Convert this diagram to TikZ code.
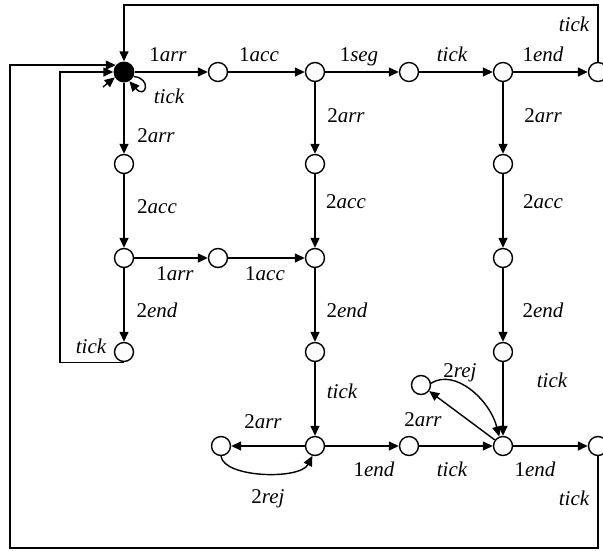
\documentclass[tikz,border=0pt]{standalone}
\usepackage{fontspec}
\setmainfont{Liberation Serif}
\usetikzlibrary{arrows.meta}
\begin{document}
\begin{tikzpicture}[x=1pt,y=-1pt,
  st/.style={circle,draw,line width=1.4pt,minimum size=19pt,inner sep=0pt,fill=white},
  ini/.style={circle,fill=black,minimum size=21pt,inner sep=0pt},
  arr/.style={line width=1.4pt,-{Triangle[length=10pt,width=9pt]}},
  lbl/.style={anchor=base,inner sep=0pt,font=\fontsize{21}{24}\selectfont\itshape}]
\useasboundingbox (0,0) rectangle (603,550);
% states
\node[ini] (s0) at (124,72) {};
\node[st] (a1) at (218,72) {};
\node[st] (a2) at (315,72) {};
\node[st] (a3) at (409,72) {};
\node[st] (a4) at (503,72) {};
\node[st] (a5) at (598,72) {};
\node[st] (b1) at (124,164) {};
\node[st] (b2) at (124,258) {};
\node[st] (b3) at (124,352) {};
\node[st] (b4) at (218,258) {};
\node[st] (m1) at (315,164) {};
\node[st] (m2) at (315,258) {};
\node[st] (m3) at (315,352) {};
\node[st] (m4) at (315,446) {};
\node[st] (r1) at (503,164) {};
\node[st] (r2) at (503,258) {};
\node[st] (r3) at (503,352) {};
\node[st] (r4) at (503,446) {};
\node[st] (d1) at (221,446) {};
\node[st] (d2) at (409,446) {};
\node[st] (d3) at (598,446) {};
\node[st] (e1) at (421,385) {};
% corner coordinates
\coordinate (init) at (103,87);
\coordinate (tcr) at (598,5);
\coordinate (tcl) at (124,5);
\coordinate (itl) at (60,72);
\coordinate (obr) at (598,548);
\coordinate (obl) at (10,548);
% top row
\draw[arr] (s0) -- (a1);
\draw[arr] (a1) -- (a2);
\draw[arr] (a2) -- (a3);
\draw[arr] (a3) -- (a4);
\draw[arr] (a4) -- (a5);
\draw[arr] (a5.north) -- (tcr) -- (tcl) -- (s0.north);
% initial and self loop
\draw[arr] (init) -- (s0.210);
\draw[arr] (s0.-25) .. controls (152,78) and (146,100) .. (s0.-60);
% left column
\draw[arr] (s0) -- (b1);
\draw[arr] (b1) -- (b2);
\draw[arr] (b2) -- (b4);
\draw[arr] (b4) -- (m2);
\draw[arr] (b2) -- (b3);
\draw[arr] (b3.south) -| (itl) -- (s0.west);
% middle column
\draw[arr] (a2) -- (m1);
\draw[arr] (m1) -- (m2);
\draw[arr] (m2) -- (m3);
\draw[arr] (m3) -- (m4);
\draw[arr] (m4) -- (d1);
\draw[arr] (d1.south) .. controls (224,478) and (300,480) .. (m4.255);
% bottom row
\draw[arr] (m4) -- (d2);
\draw[arr] (d2) -- (r4);
\draw[arr] (r4) -- (d3);
\draw[arr] (d3.south) -- (obr) -- (obl) |- (s0.140);
% right column
\draw[arr] (a4) -- (r1);
\draw[arr] (r1) -- (r2);
\draw[arr] (r2) -- (r3);
\draw[arr] (r3) -- (r4);
\draw[arr] (r4) -- (e1);
\draw[arr] (e1.10) .. controls (455,368) and (490,400) .. (r4.112);
% labels
\node[lbl] (L1) at (168,61) {{\upshape1}arr};
\node[lbl] (L2) at (259,61) {{\upshape1}acc};
\node[lbl] (L3) at (359,61) {{\upshape1}seg};
\node[lbl] (L4) at (452,61) {tick};
\node[lbl] (L5) at (543,61) {{\upshape1}end};
\node[lbl] (L6) at (574,31) {tick};
\node[lbl] (L7) at (169,103) {tick};
\node[lbl] (L8) at (156,142) {{\upshape2}arr};
\node[lbl] (L9) at (157,213) {{\upshape2}acc};
\node[lbl] (L10) at (157,317) {{\upshape2}end};
\node[lbl] (L11) at (91,353) {tick};
\node[lbl] (L12) at (175,280) {{\upshape1}arr};
\node[lbl] (L13) at (265,280) {{\upshape1}acc};
\node[lbl] (L14) at (346,122) {{\upshape2}arr};
\node[lbl] (L15) at (346,208) {{\upshape2}acc};
\node[lbl] (L16) at (347,317) {{\upshape2}end};
\node[lbl] (L17) at (342,398) {tick};
\node[lbl] (L18) at (543,122) {{\upshape2}arr};
\node[lbl] (L19) at (543,208) {{\upshape2}acc};
\node[lbl] (L20) at (543,317) {{\upshape2}end};
\node[lbl] (L21) at (552,387) {tick};
\node[lbl] (L22) at (460,377) {{\upshape2}rej};
\node[lbl] (L23) at (423,426) {{\upshape2}arr};
\node[lbl] (L24) at (374,476) {{\upshape1}end};
\node[lbl] (L25) at (452,476) {tick};
\node[lbl] (L26) at (535,476) {{\upshape1}end};
\node[lbl] (L27) at (574,505) {tick};
\node[lbl] (L28) at (263,428) {{\upshape2}arr};
\node[lbl] (L29) at (268,503) {{\upshape2}rej};
\end{tikzpicture}
\end{document}
